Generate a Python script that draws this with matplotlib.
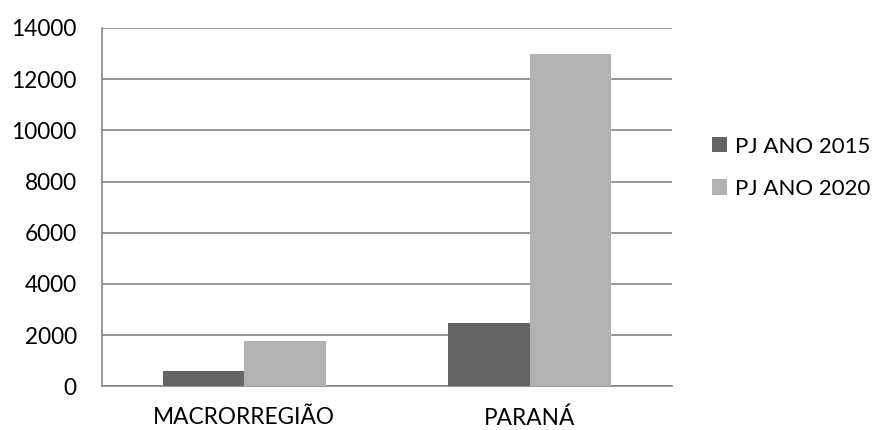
import numpy as np
import matplotlib.pyplot as plt

# PJ counts by region
categories = ['MACRORREGIÃO', 'PARANÁ']
pj_2015 = [600, 2490]
pj_2020 = [1770, 13000]
series_labels = ['PJ ANO 2015', 'PJ ANO 2020']

plt.rcParams['font.family'] = ['Lato', 'DejaVu Sans']

fig = plt.figure(figsize=(8.72, 4.3), dpi=100)
ax = fig.add_axes([0.1166, 0.1016, 0.6544, 0.8333])

x = np.arange(len(categories))
width = 0.285
ax.bar(x - width / 2, pj_2015, width, color='#646464', label=series_labels[0], zorder=3)
ax.bar(x + width / 2, pj_2020, width, color='#b2b2b2', label=series_labels[1], zorder=3)

ax.set_xlim(-0.5, 1.5)
ax.set_ylim(0, 14000)
ax.set_yticks(range(0, 14001, 2000))
ax.set_xticks(x)
ax.set_xticklabels(categories)
ax.tick_params(axis='both', length=0, labelsize=16.3)
ax.tick_params(axis='x', pad=15)
ax.tick_params(axis='y', pad=18)

ax.yaxis.grid(True, color='#868686', linewidth=1.2, zorder=0)
for side in ['top', 'right']:
    ax.spines[side].set_visible(False)
for side in ['left', 'bottom']:
    ax.spines[side].set_color('#868686')
    ax.spines[side].set_linewidth(1.2)

ax.legend(loc='center left', bbox_to_anchor=(1.035, 0.61), frameon=False,
          fontsize=16, handlelength=0.68, handleheight=0.68,
          handletextpad=0.35, labelspacing=1.0)

fig.savefig('out.png', dpi=100)
